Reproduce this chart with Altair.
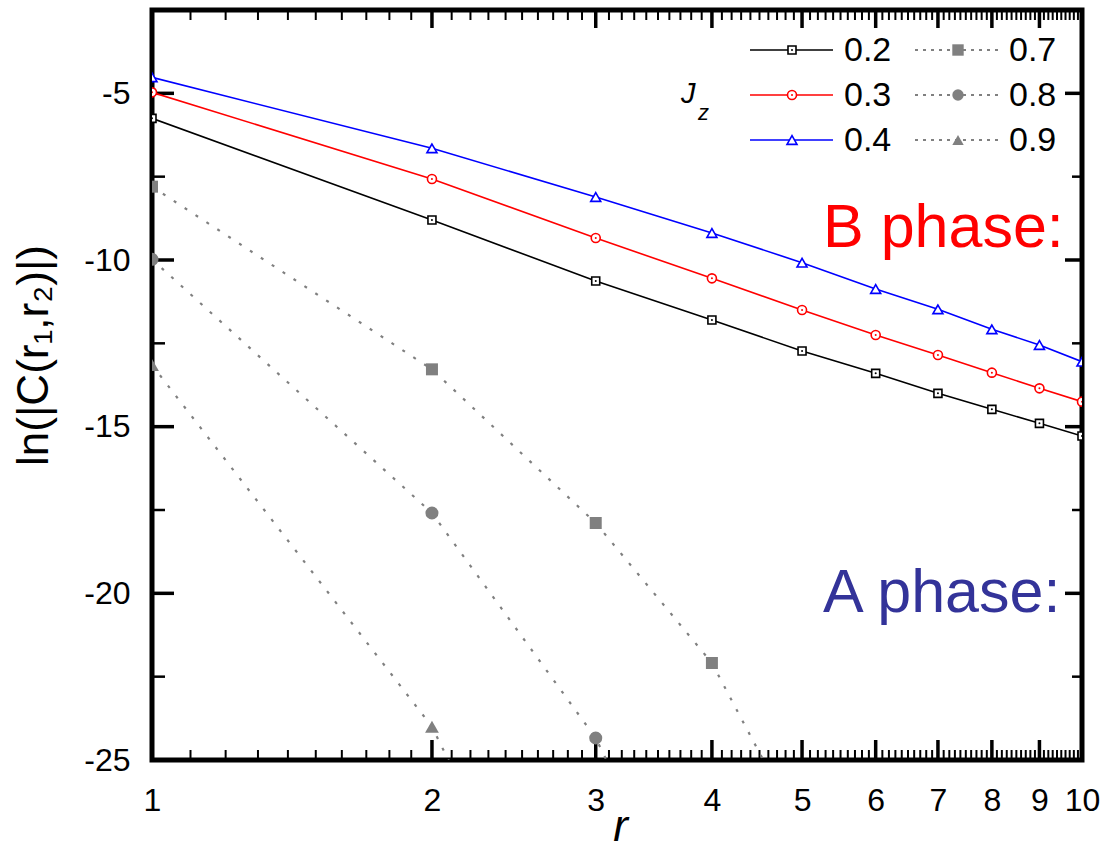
import altair as alt
import pandas as pd

# ---------------- data ----------------
r_vals = [1, 2, 3, 4, 5, 6, 7, 8, 9, 10]
jz_02 = [-5.75, -8.80, -10.63, -11.80, -12.73, -13.40, -14.00, -14.48, -14.90, -15.28]
jz_03 = [-4.97, -7.57, -9.34, -10.55, -11.50, -12.25, -12.85, -13.38, -13.85, -14.25]
jz_04 = [-4.52, -6.65, -8.11, -9.19, -10.08, -10.87, -11.48, -12.08, -12.55, -13.05]
jz_07 = [-7.80, -13.28, -17.89, -22.09, -27.2]
jz_08 = [-9.98, -17.59, -24.34, -31.5]
jz_09 = [-13.15, -24.0, -34.0]

solid_labels = ["0.2", "0.3", "0.4"]
dotted_labels = ["0.7", "0.8", "0.9"]

x_tick_labels = [1, 2, 3, 4, 5, 6, 7, 8, 9, 10]
x_minor = [round(1 + 0.1 * k, 1) for k in range(1, 90) if k % 10 != 0]
y_major = [-25, -20, -15, -10, -5]
y_minor = [-22.5, -17.5, -12.5, -7.5]

# ---------------- styling ----------------
W, H = 930, 750
FONT = "Liberation Sans"
GRAY = "#808080"
solid_colors = {"0.2": "black", "0.3": "#ff0000", "0.4": "#0000ff"}
solid_shapes = {"0.2": "square", "0.3": "circle", "0.4": "triangle-up"}
solid_sizes = {"0.2": 64, "0.3": 81, "0.4": 100}
dotted_shapes = {"0.7": "square", "0.8": "circle", "0.9": "triangle-up"}
dotted_sizes = {"0.7": 144, "0.8": 170, "0.9": 190}

xs = alt.Scale(type="log", domain=[1, 10], nice=False)
ys = alt.Scale(domain=[-25, -2.5], nice=False, zero=False)

X = alt.X(
    "r:Q", scale=xs,
    axis=alt.Axis(values=x_tick_labels, format="d", ticks=False, tickSize=0, domain=False,
                  grid=False, labelFontSize=32, labelPadding=25, labelFont=FONT,
                  labelColor="black", labelOverlap=False, labelFlush=False,
                  title="r", titleFont=FONT, titleFontSize=44, titleFontStyle="italic",
                  titleFontWeight="normal", titleColor="black", titleX=468, titleY=80,
                  titleBaseline="alphabetic", titleAlign="center"),
)
Y = alt.Y(
    "lnC:Q", scale=ys,
    axis=alt.Axis(values=y_major, ticks=False, tickSize=0, domain=False, grid=False,
                  labelExpr="datum.value < 0 ? '-' + abs(datum.value) : '' + datum.value",
                  labelFontSize=32, labelPadding=22, labelFont=FONT, labelColor="black",
                  labelOverlap=False,
                  title="ln(|C(r\u2081,r\u2082)|)", titleFont=FONT, titleFontSize=44,
                  titleFontWeight="normal", titleColor="black", titleAngle=270,
                  titleX=-105, titleY=345, titleAlign="center", titleBaseline="alphabetic"),
)


def series_df(label, xs_, ys_):
    return pd.DataFrame({"r": xs_[:len(ys_)], "lnC": ys_, "Jz": [label] * len(ys_)})


layers = []

# ---------------- inward ticks ----------------
ydf_major = pd.DataFrame({"lnC": y_major})
ydf_minor = pd.DataFrame({"lnC": y_minor})
xdf_major = pd.DataFrame({"r": x_tick_labels})
xdf_minor = pd.DataFrame({"r": x_minor})
maj = dict(color="black", strokeWidth=3.5)
mnr = dict(color="black", strokeWidth=2.5)
layers += [
    alt.Chart(ydf_major).mark_rule(**maj).encode(y=Y, x=alt.value(0), x2=alt.value(22)),
    alt.Chart(ydf_minor).mark_rule(**mnr).encode(y=Y, x=alt.value(0), x2=alt.value(13)),
    alt.Chart(ydf_major).mark_rule(**maj).encode(y=Y, x=alt.value(W), x2=alt.value(W - 17)),
    alt.Chart(ydf_minor).mark_rule(**mnr).encode(y=Y, x=alt.value(W), x2=alt.value(W - 10)),
    alt.Chart(xdf_major).mark_rule(**maj).encode(x=X, y=alt.value(H), y2=alt.value(H - 20)),
    alt.Chart(xdf_minor).mark_rule(color="black", strokeWidth=2).encode(
        x=X, y=alt.value(H), y2=alt.value(H - 10)),
    alt.Chart(xdf_major).mark_rule(**maj).encode(x=X, y=alt.value(0), y2=alt.value(18)),
    alt.Chart(xdf_minor).mark_rule(color="black", strokeWidth=2).encode(
        x=X, y=alt.value(0), y2=alt.value(10)),
]

# ---------------- dotted (A phase) series ----------------
for lab, vals in zip(dotted_labels, [jz_07, jz_08, jz_09]):
    d = series_df(lab, r_vals, vals)
    layers.append(alt.Chart(d).mark_line(color=GRAY, strokeWidth=2.2, strokeDash=[3, 10],
                                         clip=True).encode(x=X, y=Y))
    layers.append(alt.Chart(d).mark_point(shape=dotted_shapes[lab], filled=True, color=GRAY,
                                          opacity=1, size=dotted_sizes[lab], clip=True)
                  .encode(x=X, y=Y))

# ---------------- solid (B phase) series ----------------
for lab, vals in zip(solid_labels, [jz_02, jz_03, jz_04]):
    d = series_df(lab, r_vals, vals)
    c = solid_colors[lab]
    layers.append(alt.Chart(d).mark_line(color=c, strokeWidth=1.6, clip=True).encode(x=X, y=Y))
    layers.append(alt.Chart(d).mark_point(shape=solid_shapes[lab], filled=True, fill="white",
                                          stroke=c, strokeWidth=1.6, opacity=1,
                                          size=solid_sizes[lab], clip=True)
                  .encode(x=X, y=Y))
    if lab in ("0.2", "0.3"):
        layers.append(alt.Chart(d).mark_point(shape="circle", filled=True, color=c, size=4,
                                              opacity=1, clip=True).encode(x=X, y=Y))

# ---------------- manual legend ----------------
one = pd.DataFrame({"k": [0]})
row_y = [40, 85, 130]
for i, lab in enumerate(solid_labels):
    c = solid_colors[lab]
    yy = row_y[i]
    layers.append(alt.Chart(one).mark_rule(color=c, strokeWidth=1.6).encode(
        x=alt.value(598), x2=alt.value(681), y=alt.value(yy)))
    layers.append(alt.Chart(one).mark_point(shape=solid_shapes[lab], filled=True, fill="white",
                                            stroke=c, strokeWidth=1.6, opacity=1,
                                            size=solid_sizes[lab]).encode(
        x=alt.value(640), y=alt.value(yy)))
    if lab in ("0.2", "0.3"):
        layers.append(alt.Chart(one).mark_point(shape="circle", filled=True, color=c, size=4,
                                                opacity=1).encode(x=alt.value(640), y=alt.value(yy)))
    layers.append(alt.Chart(one).mark_text(align="left", baseline="middle", font=FONT,
                                           fontSize=34, color="black").encode(
        x=alt.value(692), y=alt.value(yy + 1), text=alt.value(lab)))
for i, lab in enumerate(dotted_labels):
    yy = row_y[i]
    layers.append(alt.Chart(one).mark_rule(color=GRAY, strokeWidth=2, strokeDash=[3, 5]).encode(
        x=alt.value(763), x2=alt.value(848), y=alt.value(yy)))
    layers.append(alt.Chart(one).mark_point(shape=dotted_shapes[lab], filled=True, color=GRAY,
                                            opacity=1, size=130).encode(
        x=alt.value(806), y=alt.value(yy)))
    layers.append(alt.Chart(one).mark_text(align="left", baseline="middle", font=FONT,
                                           fontSize=34, color="black").encode(
        x=alt.value(857), y=alt.value(yy + 1), text=alt.value(lab)))

layers.append(alt.Chart(one).mark_text(align="left", baseline="alphabetic", font=FONT,
                                       fontSize=29, fontStyle="italic", color="black").encode(
    x=alt.value(529), y=alt.value(93), text=alt.value("J")))
layers.append(alt.Chart(one).mark_text(align="left", baseline="alphabetic", font=FONT,
                                       fontSize=22, fontStyle="italic", color="black").encode(
    x=alt.value(546), y=alt.value(110), text=alt.value("z")))

# ---------------- phase annotations ----------------
layers.append(alt.Chart(one).mark_text(align="left", baseline="alphabetic", font=FONT,
                                       fontSize=61, color="#ff0000").encode(
    x=alt.value(671), y=alt.value(237), text=alt.value("B phase:")))
layers.append(alt.Chart(one).mark_text(align="left", baseline="alphabetic", font=FONT,
                                       fontSize=61, color="#333399").encode(
    x=alt.value(671), y=alt.value(602), text=alt.value("A phase:")))

chart = alt.layer(*layers).properties(
    width=W, height=H,
    autosize=alt.AutoSizeParams(type="none"),
    padding={"left": 152, "top": 10, "right": 26, "bottom": 88},
    background="white",
).configure_view(stroke="black", strokeWidth=5)

chart.save("out.html", embed_options={"renderer": "svg", "actions": False})
